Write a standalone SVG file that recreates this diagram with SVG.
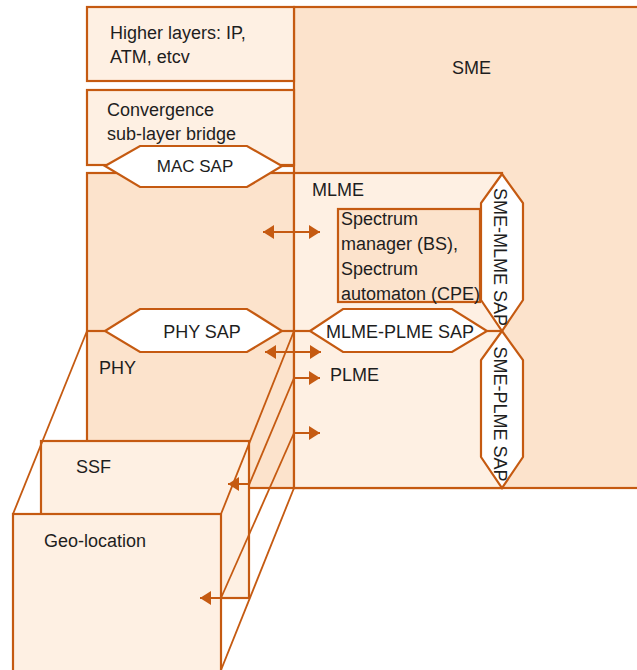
<svg xmlns="http://www.w3.org/2000/svg" width="637" height="670" viewBox="0 0 637 670">
<style>
.box{stroke:#C55A11;stroke-width:2.2}
.dark{fill:#FCE3CC}
.light{fill:#FEF0E3}
.sap{fill:#fff;stroke:#C55A11;stroke-width:2.2}
.t{font-family:"Liberation Sans",Arial,sans-serif;font-size:18px;fill:#1e1e1e}
.m{text-anchor:middle}
.ln{stroke:#C55A11;stroke-width:1.8;fill:none}
.ar{stroke:#C55A11;stroke-width:2;fill:none}
</style>
<defs>
<marker id="ah" markerUnits="userSpaceOnUse" markerWidth="12" markerHeight="14" refX="11" refY="7" orient="auto-start-reverse"><path d="M0,0 L11,7 L0,14 z" fill="#C55A11"/></marker>
</defs>
<g id="sme"><rect class="box dark" x="294" y="7" width="350" height="481"/><text class="t" x="452" y="74">SME</text></g>
<g id="higher"><rect class="box light" x="87" y="7" width="207" height="74"/><text class="t" x="110" y="39">Higher layers: IP,</text><text class="t" x="110" y="63">ATM, etcv</text></g>
<g id="convergence"><rect class="box light" x="87" y="90" width="207" height="75"/><text class="t" x="107" y="116">Convergence</text><text class="t" x="107" y="140">sub-layer bridge</text></g>
<g id="phy"><rect class="box dark" x="87" y="173" width="207" height="315"/><text class="t" x="99" y="374">PHY</text></g>
<g id="mlme-plme"><rect class="box light" x="294" y="173" width="208" height="315"/><text class="t" x="312" y="196">MLME</text><text class="t" x="330" y="381">PLME</text></g>
<g id="sme-mlme-sap"><polygon class="sap" points="502,174 523,203 523,300 502,331 481,300 481,203"/><text class="t m" transform="translate(494,257) rotate(90)">SME-MLME SAP</text></g>
<g id="sme-plme-sap"><polygon class="sap" points="502,331 523,360 523,457 502,488 481,457 481,360"/><text class="t m" transform="translate(494,414) rotate(90)">SME-PLME SAP</text></g>
<g id="spectrum"><rect class="box dark" x="338" y="209" width="142" height="93"/><text class="t" x="341" y="225">Spectrum</text><text class="t" x="341" y="250">manager (BS),</text><text class="t" x="341" y="275">Spectrum</text><text class="t" x="341" y="300">automaton (CPE)</text></g>
<g id="mac-sap"><polygon class="sap" points="105,166 140,146 247,146 282,166 247,187 140,187"/><text class="t m" style="font-size:17px" x="195" y="172">MAC SAP</text></g>
<g id="phy-sap"><polygon class="sap" points="105,331 140,309 247,309 282,331 247,352 140,352"/><text class="t m" x="202" y="338">PHY SAP</text></g>
<g id="mlme-plme-sap"><polygon class="sap" points="310,331 343,309 452,309 487,331 452,352 343,352"/><text class="t m" x="400" y="338">MLME-PLME SAP</text></g>
<g id="ssf"><rect class="box light" x="41" y="441" width="208" height="157"/><text class="t" x="76" y="473">SSF</text></g>
<g id="geo"><rect class="box light" x="13" y="514" width="208" height="170"/><text class="t" x="44" y="547">Geo-location</text></g>
<g id="connectors">
<line class="box" x1="282" y1="166" x2="294" y2="166"/>
<line class="box" x1="87" y1="331" x2="105" y2="331"/>
<line class="box" x1="282" y1="331" x2="310" y2="331"/>
<line class="box" x1="487" y1="331" x2="502" y2="331"/>
<line class="ln" x1="87" y1="331" x2="13" y2="514"/>
<line class="ln" x1="294" y1="331" x2="221" y2="514"/>
<line class="ln" x1="294" y1="378" x2="249" y2="485"/>
<line class="ln" x1="294" y1="433" x2="221" y2="598"/>
<line class="ln" x1="294" y1="488" x2="221" y2="670"/>
<line class="ar" x1="263" y1="232" x2="320" y2="232" marker-start="url(#ah)" marker-end="url(#ah)"/>
<line class="ar" x1="265" y1="352" x2="321" y2="352" marker-start="url(#ah)" marker-end="url(#ah)"/>
<line class="ar" x1="294" y1="378" x2="320" y2="378" marker-end="url(#ah)"/>
<line class="ar" x1="294" y1="433" x2="320" y2="433" marker-end="url(#ah)"/>
<line class="ar" x1="249" y1="484" x2="228" y2="484" marker-end="url(#ah)"/>
<line class="ar" x1="249" y1="598" x2="200" y2="598" marker-end="url(#ah)"/>
</g>
</svg>
